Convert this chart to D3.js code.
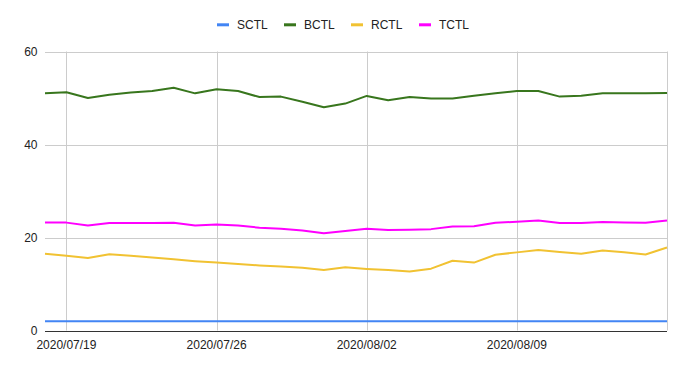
<!DOCTYPE html>
<html>
<head>
<meta charset="utf-8">
<script src="https://cdn.jsdelivr.net/npm/d3@7"></script>
<style>
  body { margin: 0; background: #fff; }
  svg { display: block; font-family: "Liberation Sans", Arial, sans-serif; }
</style>
</head>
<body>
<svg id="chart" width="686" height="369"></svg>
<script>
// data: daily readings 2020/07/18 .. 2020/08/16
const startDate = "2020-07-18";
const seriesNames = ["SCTL", "BCTL", "RCTL", "TCTL"];
const seriesColors = ["#4285f4", "#38761d", "#f1c232", "#ff00ff"];

const sctl = [2, 2, 2, 2, 2, 2, 2, 2, 2, 2, 2, 2, 2, 2, 2,
              2, 2, 2, 2, 2, 2, 2, 2, 2, 2, 2, 2, 2, 2, 2];
const bctl = [51.0, 51.25, 50.0, 50.7, 51.2, 51.5, 52.2, 51.0, 51.9, 51.5, 50.2, 50.3, 49.2, 48.0, 48.8,
              50.45, 49.5, 50.2, 49.9, 49.9, 50.5, 51.0, 51.5, 51.5, 50.3, 50.5, 51.0, 51.0, 51.0, 51.05];
const rctl = [16.5, 16.05, 15.6, 16.4, 16.05, 15.7, 15.3, 14.9, 14.6, 14.3, 14.0, 13.75, 13.5, 13.0, 13.6,
              13.25, 13.0, 12.7, 13.3, 15.0, 14.6, 16.3, 16.8, 17.3, 16.9, 16.5, 17.2, 16.85, 16.35, 17.85];
const tctl = [23.2, 23.2, 22.6, 23.1, 23.1, 23.1, 23.15, 22.6, 22.8, 22.6, 22.1, 21.9, 21.5, 20.9, 21.4,
              21.9, 21.6, 21.65, 21.8, 22.35, 22.4, 23.15, 23.4, 23.65, 23.1, 23.1, 23.35, 23.2, 23.15, 23.65];

const yTicks = [0, 20, 40, 60];
const xTickLabels = ["2020-07-19", "2020-07-26", "2020-08-02", "2020-08-09"];

const parse = d3.utcParse("%Y-%m-%d");
const fmt = d3.utcFormat("%Y/%m/%d");
const t0 = parse(startDate);
const dates = bctl.map((_, i) => d3.utcDay.offset(t0, i));
const allSeries = [sctl, bctl, rctl, tctl];

const svg = d3.select("#chart");
const plotL = 45, plotR = 667, plotT = 51.5, plotB = 330.5;

const x = d3.scaleUtc().domain([dates[0], dates[dates.length - 1]]).range([plotL, plotR]);
const y = d3.scaleLinear().domain([0, 60]).range([plotB, plotT]);

// gridlines
const grid = svg.append("g");
yTicks.filter(v => v > 0).forEach(v => {
  grid.append("line").attr("x1", plotL).attr("x2", plotR)
    .attr("y1", Math.round(y(v)) + 0.5).attr("y2", Math.round(y(v)) + 0.5)
    .attr("stroke", "#cccccc");
});
xTickLabels.map(parse).concat([dates[dates.length - 1]]).forEach(d => {
  grid.append("line").attr("y1", plotT).attr("y2", plotB)
    .attr("x1", Math.round(x(d)) + 0.5).attr("x2", Math.round(x(d)) + 0.5)
    .attr("stroke", "#cccccc");
});

// y labels
svg.append("g").selectAll("text").data(yTicks).join("text")
  .attr("x", 37.5).attr("y", d => y(d) + 4.5)
  .attr("text-anchor", "end").attr("font-size", 12).attr("fill", "#222")
  .text(d => d);

// x labels
svg.append("g").selectAll("text").data(xTickLabels.map(parse)).join("text")
  .attr("x", d => x(d)).attr("y", 348.5)
  .attr("text-anchor", "middle").attr("font-size", 12).attr("fill", "#222")
  .text(d => fmt(d));

// lines
const line = d3.line().x((d, i) => x(dates[i])).y(d => y(d));
svg.append("g").selectAll("path").data(allSeries).join("path")
  .attr("d", line)
  .attr("fill", "none")
  .attr("stroke", (d, i) => seriesColors[i])
  .attr("stroke-width", 2)
  .attr("stroke-linejoin", "round");

// baseline
svg.append("line").attr("x1", plotL).attr("x2", plotR)
  .attr("y1", Math.round(y(0)) + 0.5).attr("y2", Math.round(y(0)) + 0.5)
  .attr("stroke", "#333333");

// legend
const legendX = [217, 284, 351, 419];
const lg = svg.append("g").selectAll("g").data(seriesNames).join("g")
  .attr("transform", (d, i) => `translate(${legendX[i]},0)`);
lg.append("rect").attr("x", 0).attr("y", 23.3).attr("width", 12).attr("height", 3)
  .attr("fill", (d, i) => seriesColors[i]);
lg.append("text").attr("x", 20).attr("y", 29)
  .attr("font-size", 12).attr("fill", "#222").text(d => d);
</script>
</body>
</html>
